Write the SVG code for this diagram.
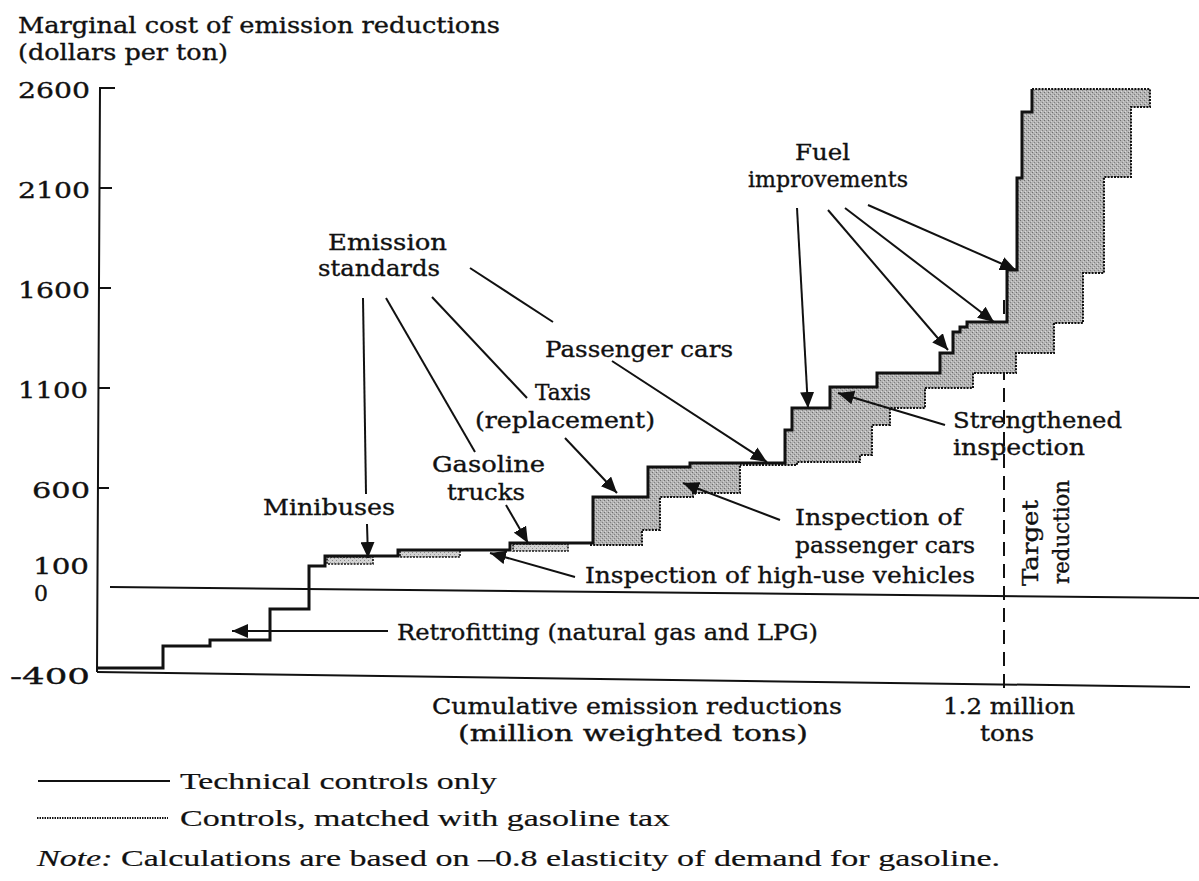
<svg xmlns="http://www.w3.org/2000/svg" width="1199" height="881" viewBox="0 0 1199 881">
<style>
.t{font-family:"DejaVu Serif","Liberation Serif",serif;font-size:22px;fill:#111;stroke:#111;stroke-width:0.35}
.l{font-family:"Liberation Serif","DejaVu Serif",serif;font-size:24px;fill:#111;stroke:#111;stroke-width:0.2}
.ax{stroke:#111;stroke-width:2;fill:none}
.stair{stroke:#111;stroke-width:3;fill:none;stroke-linejoin:miter}
.tax{stroke:#111;stroke-width:2;fill:none;stroke-dasharray:2 1.2}
.shade{fill:url(#dots);stroke:none}
.band{fill:url(#lite);stroke:#111;stroke-width:1.6;stroke-dasharray:2 1.2}
.ann{stroke:#111;stroke-width:2;fill:none}
.arr{stroke:#111;stroke-width:2;fill:none;marker-end:url(#ah)}
.tgt{stroke:#111;stroke-width:2;fill:none;stroke-dasharray:14 8}
</style>
<defs>
<pattern id="dots" width="4" height="4" patternUnits="userSpaceOnUse">
<rect width="4" height="4" fill="#b4b4b4"/>
<rect x="0" y="0" width="1" height="1" fill="#6e6e6e"/>
<rect x="2" y="2" width="1" height="1" fill="#808080"/>
<rect x="1" y="3" width="1" height="1" fill="#dadada"/>
<rect x="3" y="1" width="1" height="1" fill="#d0d0d0"/>
</pattern>
<pattern id="lite" width="4" height="4" patternUnits="userSpaceOnUse">
<rect width="4" height="4" fill="#d2d2d2"/>
<rect x="0" y="0" width="1" height="1" fill="#888"/>
<rect x="2" y="2" width="1" height="1" fill="#999"/>
</pattern>
<marker id="ah" markerUnits="userSpaceOnUse" markerWidth="16" markerHeight="14" refX="16" refY="7" orient="auto">
<path d="M0,0 L16,7 L0,14 Z" fill="#111"/>
</marker>
</defs>
<rect width="1199" height="881" fill="#fff"/>

<g id="axes">
<path class="ax" d="M115,88 H100 L97,672"/>
<path class="ax" d="M99,188 H112 M99,288 H111 M98,388 H110 M98,488 H109"/>
<path class="ax" d="M97,672 L1190,687"/>
<path class="ax" d="M110,587 L1199,598"/>
<text class="t" x="18" y="33" textLength="482" lengthAdjust="spacingAndGlyphs">Marginal cost of emission reductions</text>
<text class="t" x="18" y="60" textLength="210" lengthAdjust="spacingAndGlyphs">(dollars per ton)</text>
<text class="t" x="18" y="98" textLength="72" lengthAdjust="spacingAndGlyphs">2600</text>
<text class="t" x="18" y="198" textLength="72" lengthAdjust="spacingAndGlyphs">2100</text>
<text class="t" x="18" y="298" textLength="72" lengthAdjust="spacingAndGlyphs">1600</text>
<text class="t" x="18" y="398" textLength="70" lengthAdjust="spacingAndGlyphs">1100</text>
<text class="t" x="32" y="498" textLength="58" lengthAdjust="spacingAndGlyphs">600</text>
<text class="t" x="33" y="574" textLength="56" lengthAdjust="spacingAndGlyphs">100</text>
<text class="t" x="34" y="601">0</text>
<text class="t" x="10" y="684" textLength="80" lengthAdjust="spacingAndGlyphs">-400</text>
<text class="t" x="432" y="714" textLength="410" lengthAdjust="spacingAndGlyphs">Cumulative emission reductions</text>
<text class="t" x="458" y="741" textLength="350" lengthAdjust="spacingAndGlyphs">(million weighted tons)</text>
<text class="t" x="943" y="714" textLength="132" lengthAdjust="spacingAndGlyphs">1.2 million</text>
<text class="t" x="980" y="741" textLength="54" lengthAdjust="spacingAndGlyphs">tons</text>
</g>

<g id="target">
<path class="tgt" d="M1004,300 V692"/>
<text class="t" transform="translate(1038,586) rotate(-90)" textLength="86" lengthAdjust="spacingAndGlyphs">Target</text>
<text class="t" transform="translate(1069,584) rotate(-90)" textLength="104" lengthAdjust="spacingAndGlyphs">reduction</text>
</g>

<g id="shading">
<path class="shade" d="M593,545 V497 H648 V467 H690 V463 H740 V493 H693 V497 H660 V530 H642 V545 Z"/>
<path class="tax" d="M590,545 H642 V530 H660 V497 H693 V493 H740 V465"/>
<path class="shade" d="M785,463 V430 H792 V408 H830 V387 H877 V373 H940 V353 H953 V332 H960 V327 H967 V322 H1007 V270 H1017 V178 H1022 V112 H1032 V89 H1150 V107 H1131 V177 H1104 V273 H1083 V323 H1054 V353 H1016 V373 H973 V388 H925 V408 H890 V425 H872 V455 H860 V462 H797 V465 H778 Z"/>
<path class="tax" d="M1032,89 H1150 V107 H1131 V177 H1104 V273 H1083 V323 H1054 V353 H1016 V373 H973 V388 H925 V408 H890 V425 H872 V455 H860 V462 H797 V465 H740"/>
<rect class="band" x="327" y="557" width="46" height="7"/>
<rect class="band" x="400" y="550" width="60" height="7"/>
<rect class="band" x="513" y="544" width="55" height="7"/>
</g>

<g id="technical-controls">
<path class="stair" d="M98,668 H163 V646 H210 V640 H270 V609 H309 V566 H325 V556 H398 V550 H510 V543 H593 V497 H648 V467 H690 V463 H785 V430 H792 V408 H830 V387 H877 V373 H940 V353 H953 V332 H960 V327 H967 V322 H1007 V270 H1017 V178 H1022 V112 H1032 V89"/>
</g>

<g id="connectors">
<path class="ann" d="M363,298 L366,494"/>
<path class="arr" d="M367,524 L368,558"/>
<path class="ann" d="M386,298 L475,452"/>
<path class="arr" d="M506,505 L528,543"/>
<path class="ann" d="M432,297 L527,398"/>
<path class="arr" d="M565,438 L617,493"/>
<path class="ann" d="M470,268 L553,322"/>
<path class="arr" d="M612,361 L767,462"/>
<path class="arr" d="M575,577 L490,553"/>
<path class="arr" d="M388,631 L232,631"/>
<path class="arr" d="M780,520 L683,483"/>
<path class="arr" d="M945,425 L838,393"/>
<path class="arr" d="M797,208 L808,408"/>
<path class="arr" d="M828,210 L948,350"/>
<path class="arr" d="M845,208 L994,322"/>
<path class="arr" d="M868,205 L1016,270"/>
</g>

<g id="labels">
<text class="t" x="328" y="250" textLength="119" lengthAdjust="spacingAndGlyphs">Emission</text>
<text class="t" x="318" y="276" textLength="122" lengthAdjust="spacingAndGlyphs">standards</text>
<text class="t" x="795" y="160" textLength="55" lengthAdjust="spacingAndGlyphs">Fuel</text>
<text class="t" x="748" y="187" textLength="160" lengthAdjust="spacingAndGlyphs">improvements</text>
<text class="t" x="545" y="357" textLength="188" lengthAdjust="spacingAndGlyphs">Passenger cars</text>
<text class="t" x="535" y="400" textLength="56" lengthAdjust="spacingAndGlyphs">Taxis</text>
<text class="t" x="475" y="428" textLength="180" lengthAdjust="spacingAndGlyphs">(replacement)</text>
<text class="t" x="432" y="472" textLength="113" lengthAdjust="spacingAndGlyphs">Gasoline</text>
<text class="t" x="447" y="500" textLength="78" lengthAdjust="spacingAndGlyphs">trucks</text>
<text class="t" x="263" y="515" textLength="132" lengthAdjust="spacingAndGlyphs">Minibuses</text>
<text class="t" x="585" y="583" textLength="390" lengthAdjust="spacingAndGlyphs">Inspection of high-use vehicles</text>
<text class="t" x="397" y="640" textLength="421" lengthAdjust="spacingAndGlyphs">Retrofitting (natural gas and LPG)</text>
<text class="t" x="795" y="525" textLength="167" lengthAdjust="spacingAndGlyphs">Inspection of</text>
<text class="t" x="795" y="553" textLength="180" lengthAdjust="spacingAndGlyphs">passenger cars</text>
<text class="t" x="953" y="428" textLength="169" lengthAdjust="spacingAndGlyphs">Strengthened</text>
<text class="t" x="953" y="455" textLength="132" lengthAdjust="spacingAndGlyphs">inspection</text>
</g>

<g id="legend">
<path d="M38,781 H170" stroke="#111" stroke-width="2.2"/>
<text class="l" x="180" y="789" textLength="317" lengthAdjust="spacingAndGlyphs">Technical controls only</text>
<path d="M37,818 H168" stroke="#111" stroke-width="2" stroke-dasharray="1.5 1"/>
<text class="l" x="180" y="826" textLength="490" lengthAdjust="spacingAndGlyphs">Controls, matched with gasoline tax</text>
<text class="l" x="37" y="866" textLength="963" lengthAdjust="spacingAndGlyphs"><tspan font-style="italic">Note:</tspan> Calculations are based on –0.8 elasticity of demand for gasoline.</text>
</g>
</svg>
